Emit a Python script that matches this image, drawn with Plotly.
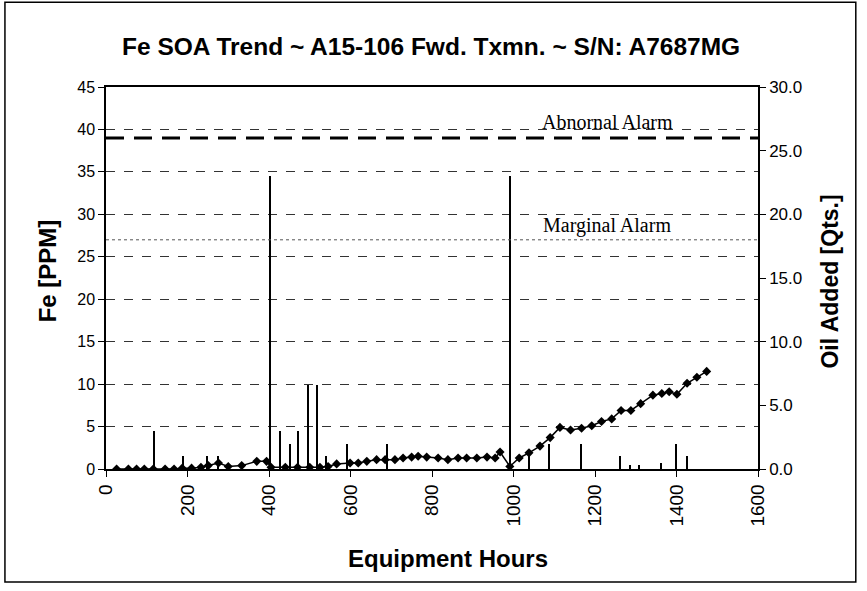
import plotly.graph_objects as go

# ---- data ----
fe_hours = [26, 55, 75, 94, 116, 145, 167, 187, 210, 233, 251, 276, 300, 333, 370, 394,
            405, 440, 470, 500, 525, 545, 566, 599, 619, 640, 664, 685, 709, 729, 750, 766,
            787, 815, 839, 864, 885, 910, 935, 955, 967, 991, 1014, 1038, 1065, 1090, 1114,
            1140, 1167, 1192, 1216, 1241, 1264, 1288, 1312, 1342, 1364, 1382, 1401, 1426,
            1450, 1474]
fe_ppm = [0, 0, 0, 0, 0, 0, 0, 0.1, 0.1, 0.2, 0.4, 0.7, 0.3, 0.4, 0.9, 0.9,
          0.2, 0.2, 0.2, 0.2, 0.2, 0.3, 0.6, 0.7, 0.7, 0.9, 1.1, 1.1, 1.1, 1.3, 1.4, 1.5,
          1.4, 1.3, 1.1, 1.3, 1.3, 1.3, 1.4, 1.3, 2.0, 0.3, 1.3, 1.9, 2.7, 3.7, 4.9,
          4.6, 4.8, 5.1, 5.6, 5.9, 6.9, 6.9, 7.7, 8.7, 8.9, 9.1, 8.8, 10.1,
          10.8, 11.5]

oil_hours = [118, 188, 248, 275, 402, 427, 452, 472, 496, 518, 541, 591, 689,
             991, 1038, 1087, 1165, 1261, 1287, 1308, 1361, 1399, 1425]
oil_qts = [3.0, 1.0, 1.0, 1.0, 23.0, 3.0, 2.0, 3.0, 6.6, 6.6, 1.0, 2.0, 2.0,
           23.0, 1.0, 2.0, 2.0, 1.0, 0.3, 0.3, 0.5, 2.0, 1.0]

abnormal_alarm = 39
marginal_alarm = 27

x_ticks = [0, 200, 400, 600, 800, 1000, 1200, 1400, 1600]
fe_ticks = [0, 5, 10, 15, 20, 25, 30, 35, 40, 45]
oil_ticks = [0, 5, 10, 15, 20, 25, 30]

title_text = "Fe SOA Trend ~ A15-106 Fwd. Txmn. ~ S/N: A7687MG"

# ---- figure ----
fig = go.Figure()

fig.add_trace(go.Bar(x=oil_hours, y=oil_qts, yaxis="y2", width=5,
                     marker=dict(color="black", line=dict(width=0)),
                     name="Oil Added", showlegend=False))

fig.add_trace(go.Scatter(x=fe_hours, y=fe_ppm, mode="lines+markers",
                         line=dict(color="black", width=1.5),
                         marker=dict(symbol="diamond", size=7, color="black"),
                         name="Fe", showlegend=False))

# alarm lines
fig.add_shape(type="line", xref="paper", x0=0, x1=1, yref="y", y0=abnormal_alarm, y1=abnormal_alarm,
              line=dict(color="black", width=3, dash="18px,10px"))
fig.add_shape(type="line", xref="paper", x0=0, x1=1, yref="y", y0=marginal_alarm, y1=marginal_alarm,
              line=dict(color="#555555", width=1, dash="dot"))

serif = "Liberation Serif, Times New Roman, serif"
fig.add_annotation(x=1230, y=abnormal_alarm + 1.9, text="Abnornal Alarm", showarrow=False,
                   xanchor="center", yanchor="middle",
                   font=dict(family=serif, size=20, color="black"))
fig.add_annotation(x=1230, y=marginal_alarm + 1.7, text="Marginal Alarm", showarrow=False,
                   xanchor="center", yanchor="middle",
                   font=dict(family=serif, size=20, color="black"))

# axis titles and chart title as annotations
bold_font = "Liberation Sans, Arial, sans-serif"
fig.add_annotation(xref="paper", yref="paper", x=0.4985, y=1.107, text="<b>" + title_text + "</b>",
                   xanchor="center", yanchor="middle",
                   showarrow=False, font=dict(family=bold_font, size=24.5, color="black"))
fig.add_annotation(xref="paper", yref="paper", x=-0.0905, y=0.52, text="<b>Fe [PPM]</b>",
                   xanchor="center", yanchor="middle",
                   textangle=-90, showarrow=False, font=dict(family=bold_font, size=24, color="black"))
fig.add_annotation(xref="paper", yref="paper", x=1.110, y=0.49, text="<b>Oil Added [Qts.]</b>",
                   xanchor="center", yanchor="middle",
                   textangle=-90, showarrow=False, font=dict(family=bold_font, size=23, color="black"))
fig.add_annotation(xref="paper", yref="paper", x=0.5245, y=-0.233, text="<b>Equipment Hours</b>",
                   xanchor="center", yanchor="middle",
                   showarrow=False, font=dict(family=bold_font, size=24, color="black"))

# outer chart border
fig.add_shape(type="rect", xref="paper", yref="paper", x0=-0.155, x1=1.150, y0=-0.296, y1=1.222,
              line=dict(color="black", width=1.5), layer="below")

tick_font = dict(family="Liberation Sans, Arial, sans-serif", size=16, color="black")
xtick_font = dict(family="Liberation Sans, Arial, sans-serif", size=19, color="black")
rtick_font = dict(family="Liberation Sans, Arial, sans-serif", size=17, color="black")

fig.update_layout(
    width=867, height=591,
    margin=dict(l=106, r=109, t=87, b=122),
    paper_bgcolor="white", plot_bgcolor="white",
    bargap=0,
    xaxis=dict(range=[0, 1600], tickvals=x_ticks, tickangle=-90, tickfont=xtick_font,
               showline=True, linecolor="black", linewidth=1.5, mirror=True,
               ticks="outside", ticklen=6, tickcolor="black", showgrid=False, zeroline=False),
    yaxis=dict(range=[0, 45], tickvals=fe_ticks, tickfont=tick_font,
               showline=True, linecolor="black", linewidth=1.5,
               ticks="outside", ticklen=6, tickcolor="black",
               showgrid=True, gridcolor="#333333", gridwidth=1, griddash="dash", zeroline=False),
    yaxis2=dict(range=[0, 30], tickvals=oil_ticks, tickformat=".1f", tickfont=rtick_font,
                overlaying="y", side="right",
                showline=True, linecolor="black", linewidth=1.5,
                ticks="outside", ticklen=6, tickcolor="black", showgrid=False, zeroline=False),
)

fig.write_html("out.html", config={"displayModeBar": False},
               post_script="document.body.style.margin='0';")
